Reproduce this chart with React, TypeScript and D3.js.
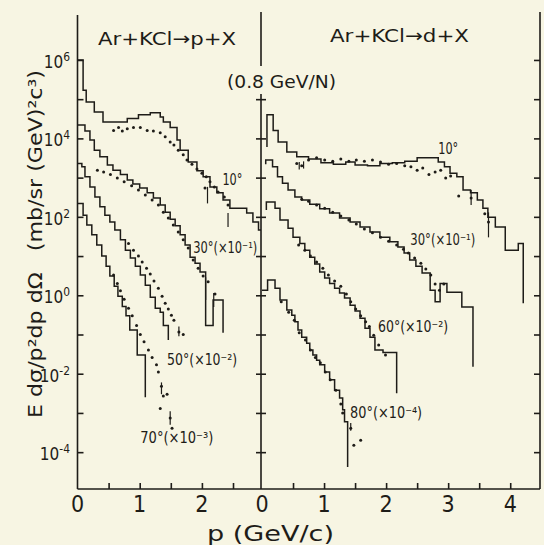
import React, { useEffect, useRef } from 'react';
import * as d3 from 'd3';

type Pt = [number, number];
type Bar = [number, number, number];

// Ar+KCl -> p+X (left panel); histogram points are [p bin start, value], last point = end of step
const pHist10: Pt[] = [[0, 1e6], [0.09, 1.7e5], [0.14, 8.5e4], [0.27, 4.7e4], [0.41, 2.6e4], [0.8, 3.2e4], [0.98, 4.0e4], [1.17, 4.5e4], [1.33, 3.5e4], [1.38, 2.6e4], [1.49, 1.9e4], [1.6, 9.1e3], [1.65, 5.0e3], [1.78, 2.5e3], [1.92, 1.5e3], [2.02, 1.05e3], [2.13, 580], [2.24, 410], [2.34, 270], [2.45, 166], [2.72, 126], [2.82, 74], [2.91, 46], [2.95, 46]];
const pDots10: Pt[] = [[0.58, 1.6e4], [0.66, 1.9e4], [0.72, 1.55e4], [0.8, 1.75e4], [0.9, 1.9e4], [1.01, 1.9e4], [1.12, 1.6e4], [1.22, 1.55e4], [1.33, 1.4e4], [1.41, 1.1e4], [1.49, 8.1e3], [1.55, 6.8e3], [1.62, 5.0e3], [1.7, 3.8e3], [1.76, 2.8e3], [1.84, 2.2e3], [1.92, 1.65e3], [2.0, 1.3e3], [2.07, 1.05e3], [2.13, 780], [2.2, 580], [2.26, 430], [2.36, 320], [2.42, 200], [2.05, 540]];
const pHist30: Pt[] = [[0, 2.2e4], [0.12, 1.55e4], [0.2, 9.1e3], [0.27, 5.0e3], [0.36, 3.4e3], [0.48, 2.1e3], [0.57, 1.55e3], [0.69, 1.2e3], [0.8, 870], [0.89, 690], [1.0, 540], [1.12, 410], [1.22, 300], [1.33, 200], [1.41, 130], [1.49, 87], [1.57, 59], [1.65, 35], [1.73, 19], [1.81, 9.3], [1.89, 6.6], [1.97, 3.9], [2.06, 0.17], [2.18, 0.76], [2.34, 0.11]];
const pDots30: Pt[] = [[0.32, 1.55e3], [0.42, 1.4e3], [0.53, 1.2e3], [0.64, 980], [0.75, 780], [0.87, 620], [0.98, 480], [1.09, 360], [1.2, 270], [1.3, 200], [1.38, 130], [1.46, 93], [1.54, 62], [1.62, 41], [1.7, 26], [1.78, 16], [1.86, 7.9], [1.94, 4.9], [2.02, 3.1], [2.1, 2.2], [2.21, 1.07]];
const pHist50: Pt[] = [[0, 2.3e3], [0.07, 1.9e3], [0.12, 1.05e3], [0.2, 580], [0.28, 320], [0.36, 180], [0.44, 110], [0.52, 74], [0.6, 46], [0.69, 26], [0.77, 14], [0.85, 8.9], [0.93, 5.5], [1.01, 3.3], [1.09, 1.8], [1.17, 0.89], [1.25, 0.47], [1.33, 0.37], [1.38, 0.17], [1.46, 0.072]];
const pDots50: Pt[] = [[0.82, 21], [0.9, 14], [0.98, 10], [1.04, 7.1], [1.11, 4.9], [1.17, 3.5], [1.23, 2.3], [1.3, 1.5], [1.36, 0.95], [1.41, 0.63], [1.46, 0.45], [1.51, 0.31], [1.55, 0.23], [1.63, 0.115], [1.7, 0.1]];
const pHist70: Pt[] = [[0, 220], [0.09, 110], [0.15, 62], [0.23, 35], [0.31, 19], [0.39, 10], [0.46, 5.5], [0.52, 3.1], [0.59, 1.7], [0.65, 0.95], [0.72, 0.52], [0.78, 0.3], [0.84, 0.13], [0.96, 0.03], [1.09, 0.0025]];
const pDots70: Pt[] = [[0.58, 3.3], [0.64, 2.0], [0.69, 1.3], [0.75, 0.79], [0.82, 0.47], [0.88, 0.3], [0.95, 0.17], [1.01, 0.1], [1.07, 0.065], [1.14, 0.04], [1.2, 0.026], [1.27, 0.017], [1.3, 0.011], [1.35, 0.0048], [1.38, 0.0027], [1.44, 0.003], [1.33, 0.0013], [1.49, 0.00074], [1.52, 0.00041]];
const pErrBars: Bar[] = [[2.42, 55, 126], [2.09, 220, 580], [2.06, 0.76, 2.9], [2.19, 0.5, 1.15], [1.63, 0.09, 0.16], [1.35, 0.003, 0.006], [1.49, 0.0005, 0.0011]];

// Ar+KCl -> d+X (right panel)
const dHist10: Pt[] = [[0.08, 6.0e3], [0.08, 4.0e4], [0.18, 1.6e4], [0.26, 8.1e3], [0.4, 4.5e3], [0.56, 3.4e3], [0.75, 3.0e3], [0.95, 2.4e3], [1.15, 2.2e3], [1.35, 2.5e3], [1.5, 2.1e3], [1.7, 2.0e3], [1.9, 2.3e3], [2.1, 2.4e3], [2.3, 2.6e3], [2.5, 3.2e3], [2.84, 2.5e3], [2.94, 1.9e3], [3.03, 1.3e3], [3.14, 1.05e3], [3.24, 480], [3.36, 410], [3.47, 270], [3.56, 166], [3.64, 98], [3.76, 55], [3.92, 14], [4.13, 21], [4.21, 0.63]];
const dDots10: Pt[] = [[0.56, 2.3e3], [0.64, 2.0e3], [0.75, 2.8e3], [0.88, 3.2e3], [1.01, 2.8e3], [1.14, 2.6e3], [1.27, 3.0e3], [1.4, 2.6e3], [1.52, 2.8e3], [1.65, 2.6e3], [1.78, 2.8e3], [1.91, 2.5e3], [2.04, 2.2e3], [2.17, 2.3e3], [2.3, 2.0e3], [2.4, 1.9e3], [2.5, 1.55e3], [2.59, 1.75e3], [2.69, 1.2e3], [2.79, 1.4e3], [2.88, 1.55e3], [2.96, 980], [3.04, 1.1e3], [3.17, 340], [3.37, 300], [3.59, 120], [3.65, 74]];
const dHist30: Pt[] = [[0.06, 2.2e3], [0.06, 2.8e3], [0.17, 1.9e3], [0.25, 1.05e3], [0.33, 720], [0.42, 480], [0.53, 320], [0.64, 270], [0.77, 210], [0.93, 160], [1.09, 126], [1.25, 93], [1.42, 74], [1.58, 55], [1.74, 41], [1.9, 30], [2.06, 23], [2.19, 17], [2.29, 12], [2.38, 7.9], [2.48, 5.5], [2.58, 3.7], [2.71, 1.35], [2.79, 0.68], [2.87, 2.0], [2.98, 1.2], [3.22, 0.5], [3.4, 0.015]];
const dDots30: Pt[] = [[0.64, 280], [0.75, 250], [0.88, 200], [1.01, 166], [1.14, 130], [1.27, 105], [1.4, 83], [1.52, 66], [1.65, 49], [1.78, 39], [1.91, 30], [2.04, 24], [2.17, 19], [2.28, 15], [2.36, 12], [2.46, 8.9], [2.56, 6.6], [2.64, 4.7], [2.72, 3.3], [2.79, 1.95], [2.86, 1.35], [2.93, 1.95]];
const dHist60: Pt[] = [[0.07, 150], [0.07, 240], [0.21, 166], [0.29, 83], [0.42, 51], [0.5, 30], [0.61, 21], [0.69, 14], [0.77, 9.3], [0.85, 6.3], [0.93, 3.9], [1.01, 2.75], [1.09, 2.0], [1.17, 1.5], [1.25, 1.15], [1.33, 0.85], [1.42, 0.56], [1.5, 0.4], [1.58, 0.26], [1.66, 0.145], [1.74, 0.085], [1.82, 0.04], [1.95, 0.035], [2.17, 0.0032]];
const dDots60: Pt[] = [[0.59, 19], [0.69, 14], [0.78, 10], [0.88, 7.1], [0.98, 4.9], [1.07, 3.3], [1.17, 2.3], [1.27, 1.7], [1.36, 1.07], [1.43, 0.68], [1.51, 0.45], [1.59, 0.3], [1.67, 0.21], [1.73, 0.16], [1.8, 0.095], [1.88, 0.054], [1.99, 0.03]];
const dHist80: Pt[] = [[0, 1.35], [0.09, 2.45], [0.21, 1.5], [0.29, 0.76], [0.4, 0.42], [0.48, 0.31], [0.53, 0.21], [0.58, 0.13], [0.64, 0.085], [0.72, 0.06], [0.77, 0.04], [0.82, 0.03], [0.88, 0.022], [0.93, 0.017], [1.01, 0.011], [1.09, 0.007], [1.17, 0.0038], [1.25, 0.0024], [1.3, 0.0012], [1.33, 0.0006], [1.38, 4.2e-5]];
const dDots80: Pt[] = [[0.31, 0.68], [0.43, 0.37], [0.52, 0.23], [0.6, 0.11], [0.7, 0.072], [0.78, 0.04], [0.86, 0.026], [0.94, 0.019], [1.02, 0.011], [1.1, 0.007], [1.19, 0.0038], [1.27, 0.0017], [1.3, 0.001], [1.43, 0.00041], [1.48, 0.00015], [1.59, 0.0002]];
const dErrBars: Bar[] = [[3.37, 200, 480], [3.65, 30, 130], [0.6, 1.6e3, 2.5e3], [0.67, 1.7e3, 2.6e3], [1.43, 0.00035, 0.00055]];

// curve labels: text, p, value at label centre, printed width
const pLabels: [string, number, number, number][] = [['10°', 2.33, 870, 20], ['30°(×10⁻¹)', 1.86, 16, 64], ['50°(×10⁻²)', 1.44, 0.022, 70], ['70°(×10⁻³)', 1.01, 2.3e-4, 73]];
const dLabels: [string, number, number, number][] = [['10°', 2.84, 5.4e3, 20], ['30°(×10⁻¹)', 2.39, 26, 65], ['60°(×10⁻²)', 1.87, 0.155, 70], ['80°(×10⁻⁴)', 1.42, 1e-3, 72]];

const decades = [1e-4, 1e-3, 1e-2, 1e-1, 1, 10, 100, 1e3, 1e4, 1e5, 1e6];
const yTickExps = ['6', '4', '2', '0', '-2', '-4'];
const pTicksLeft = [0, 1, 2];
const pTicksRight = [0, 1, 2, 3, 4];
const pMinorLeft = [0.5, 1, 1.5, 2, 2.5];
const pMinorRight = [0.5, 1, 1.5, 2, 2.5, 3, 3.5, 4];

export default function App() {
  const ref = useRef<SVGSVGElement>(null);

  useEffect(() => {
    const svg = d3.select(ref.current);
    svg.selectAll('*').remove();
    const ink = '#1e1c18';
    const font = "'DejaVu Sans Condensed', 'DejaVu Sans', sans-serif";

    svg.append('rect').attr('width', 544).attr('height', 545).attr('fill', '#f7f5e3');

    const y = d3.scaleLog().domain([1.15e-5, 1.4e7]).range([489, 15]);
    const xL = d3.scaleLinear().domain([0, 2.95]).range([77.5, 261]);
    const xR = d3.scaleLinear().domain([0, 4.48]).range([262, 540]);

    // rich text: "a^{b}c" -> superscript b
    const rich = (g: any, x: number, yy: number, str: string, size: number, anchor = 'start', len?: number) => {
      const t = g.append('text').attr('x', x).attr('y', yy).attr('font-size', size)
        .attr('text-anchor', anchor).attr('font-family', font).attr('fill', ink).style('white-space', 'pre');
      let sup = false;
      str.split(/(\^\{[^}]*\})/).filter((s) => s.length).forEach((s) => {
        const isSup = s.startsWith('^{');
        const ts = t.append('tspan').text(isSup ? s.slice(2, -1) : s);
        if (isSup) ts.attr('font-size', size * 0.7).attr('dy', sup ? 0 : -size * 0.42);
        else if (sup) ts.attr('dy', size * 0.42);
        sup = isSup;
      });
      if (len) t.attr('textLength', len).attr('lengthAdjust', 'spacingAndGlyphs');
      return t;
    };

    const axes = svg.append('g').attr('stroke', ink).attr('stroke-width', 1.6).attr('fill', 'none');
    const clean = (g: any) => { g.selectAll('text').remove(); g.select('.domain').remove(); g.selectAll('line').attr('stroke', ink).attr('stroke-width', 1.6); };

    // frame lines
    axes.append('line').attr('x1', 77.5).attr('x2', 77.5).attr('y1', 15).attr('y2', 489);
    axes.append('line').attr('x1', 261).attr('x2', 261).attr('y1', 12).attr('y2', 66);
    axes.append('line').attr('x1', 261).attr('x2', 261).attr('y1', 94).attr('y2', 489);
    axes.append('line').attr('x1', 540).attr('x2', 540).attr('y1', 12).attr('y2', 489);
    axes.append('line').attr('x1', 77.5).attr('x2', 540).attr('y1', 489).attr('y2', 489);

    svg.append('g').attr('transform', 'translate(77.5,0)').call(d3.axisRight(y).tickValues(decades).tickSize(6).tickFormat(() => '')).call(clean);
    svg.append('g').attr('transform', 'translate(261,0)').call(d3.axisRight(y).tickValues(decades.slice(0, -1)).tickSize(5).tickFormat(() => '')).call(clean);
    svg.append('g').attr('transform', 'translate(261,0)').call(d3.axisLeft(y).tickValues(decades.slice(0, -1)).tickSize(5).tickFormat(() => '')).call(clean);
    svg.append('g').attr('transform', 'translate(540,0)').call(d3.axisLeft(y).tickValues(decades).tickSize(6).tickFormat(() => '')).call(clean);
    svg.append('g').attr('transform', 'translate(0,489)').call(d3.axisTop(xL).tickValues(pMinorLeft).tickSize(6).tickFormat(() => '')).call(clean);
    svg.append('g').attr('transform', 'translate(0,489)').call(d3.axisTop(xR).tickValues(pMinorRight).tickSize(6).tickFormat(() => '')).call(clean);

    // tick labels
    yTickExps.forEach((e) => rich(svg, 70, y(Math.pow(10, +e)) + 8, `10^{${e}}`, 17, 'end'));
    pTicksLeft.forEach((t) => rich(svg, xL(t), 512, String(t), 23, 'middle'));
    pTicksRight.forEach((t) => rich(svg, xR(t), 512, String(t), 23, 'middle'));

    // titles
    rich(svg, 98, 45, 'Ar+KCl→p+X', 18, 'start', 138);
    rich(svg, 330, 42, 'Ar+KCl→d+X', 18, 'start', 139);
    rich(svg, 227, 88, '(0.8 GeV/N)', 18, 'start', 109);
    rich(svg, 207, 541, 'p (GeV/c)', 21, 'start', 127);
    const yt = svg.append('g').attr('transform', 'translate(42,418) rotate(-90)');
    rich(yt, 0, 0, 'E dσ/p²dp dΩ   (mb/sr (GeV)²c³)', 19, 'start', 348);

    const draw = (x: any, hists: Pt[][], dots: Pt[][], bars: Bar[], labels: [string, number, number, number][]) => {
      const line = d3.line<Pt>().x((d) => x(d[0])).y((d) => y(d[1])).curve(d3.curveStepAfter);
      hists.forEach((h) => svg.append('path').attr('d', line(h)).attr('fill', 'none')
        .attr('stroke', ink).attr('stroke-width', 1.5).attr('stroke-linejoin', 'miter'));
      dots.forEach((ds) => svg.append('g').selectAll('circle').data(ds).join('circle')
        .attr('cx', (d) => x(d[0])).attr('cy', (d) => y(d[1])).attr('r', 1.5).attr('fill', ink));
      svg.append('g').selectAll('line').data(bars).join('line')
        .attr('x1', (d) => x(d[0])).attr('x2', (d) => x(d[0]))
        .attr('y1', (d) => y(d[1])).attr('y2', (d) => y(d[2]))
        .attr('stroke', ink).attr('stroke-width', 1.2);
      labels.forEach(([s, p, v, w]) => rich(svg, x(p), y(v) + 5, s, 15, 'start', w));
    };

    draw(xL, [pHist10, pHist30, pHist50, pHist70], [pDots10, pDots30, pDots50, pDots70], pErrBars, pLabels);
    draw(xR, [dHist10, dHist30, dHist60, dHist80], [dDots10, dDots30, dDots60, dDots80], dErrBars, dLabels);
  }, []);

  return <svg ref={ref} width={544} height={545} style={{ position: 'absolute', left: 0, top: 0 }} />;
}
